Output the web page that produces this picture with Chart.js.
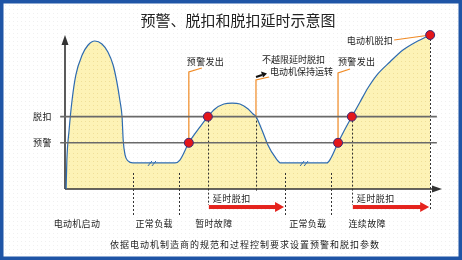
<!DOCTYPE html>
<html>
<head>
<meta charset="utf-8">
<script src="https://cdn.jsdelivr.net/npm/chart.js@4/dist/chart.umd.min.js"></script>
<style>
  html, body { margin: 0; padding: 0; background: #fff; }
  #wrap { width: 462px; height: 260px; position: relative; }
</style>
</head>
<body>
<div id="wrap"><canvas id="diagram"></canvas></div>
<script>
// motor current (0-100) over time (0-100)
const curveTime = [0.3, 0.5, 1.1, 1.9, 2.9, 4.6, 6.2, 8.0, 9.9, 11.5, 12.9, 13.9, 14.7, 15.3, 15.6, 16.1, 16.9, 18.2,
  29.5, 30.8, 33.2, 36.2, 38.3, 40.2, 42.6, 44.8, 46.9, 49.1, 50.4, 51.2, 52.8, 54.4, 56.3, 57.9,
  70.2, 71.3, 73.2, 74.8, 76.9, 79.1, 81.2, 83.6, 87.1, 90.6, 94.1, 97.9];
const curveCurrent = [0, 18.8, 38.3, 57.8, 74.0, 87.0, 93.5, 96.1, 94.2, 89.0, 80.5, 69.5, 57.8, 46.8, 31.8, 22.1, 18.2, 16.9,
  16.9, 18.8, 30, 40.3, 47, 52.0, 55.2, 55.8, 55.2, 52.0, 48.7, 47, 38.3, 28.6, 20.8, 16.9,
  16.9, 20.1, 30, 37.7, 47, 56.5, 65.6, 74.0, 82.5, 90.3, 95.5, 100];

const alarmLevel = 30;
const tripLevel = 47;
const levelNames = ["脱扣", "预警"];
const levelValues = [tripLevel, alarmLevel];
const levelSpan = [-1.3, 99.7];

// red event markers
const eventTime = [33.2, 38.3, 73.2, 76.9, 97.9];
const eventCurrent = [alarmLevel, tripLevel, alarmLevel, tripLevel, 100];

// dotted guide lines
const guideTime = [18.2, 30.6, 38.3, 51.2, 59.0, 71.3, 76.9, 97.9];
const guideTop = [10.4, 10.4, 47, 47, 10.4, 10.4, 47, 100];
const guideBottom = [-16.9, -16.9, -10.4, -1.9, -16.9, -16.9, -10.4, -13.6];

// red delay arrows
const delayStart = [38.3, 76.9];
const delayEnd = [59.0, 97.9];
const delayLevel = -11.7;
const delayLabel = "延时脱扣";

// phase labels under the axis
const phaseNames = ["电动机启动", "正常负载", "暂时故障", "正常负载", "连续故障"];
const phaseTime = [3.2, 23.9, 39.9, 65.1, 81.0];

// "//" break marks on the normal-load plateaus
const breakTime = [23.3, 64.1];
const breakCurrent = [16.9, 16.9];

const noteTexts = ["预警发出", ["不越限延时脱扣", "电动机保持运转"], "预警发出", "电动机脱扣"];
const title = "预警、脱扣和脱扣延时示意图";
const caption = "依据电动机制造商的规范和过程控制要求设置预警和脱扣参数";

const FONT = '"Noto Sans CJK SC", "Noto Sans", sans-serif';

function dots(base, dot) {
  const c = document.createElement("canvas");
  c.width = 4; c.height = 4;
  const g = c.getContext("2d");
  g.fillStyle = base; g.fillRect(0, 0, 4, 4);
  g.fillStyle = dot; g.fillRect(1, 1, 1, 1);
  return g.createPattern(c, "repeat");
}

function text(ctx, str, x, y, size, align, spacing) {
  ctx.font = size + "px " + FONT;
  ctx.textAlign = align || "left";
  ctx.textBaseline = "middle";
  ctx.letterSpacing = (spacing || 0) + "px";
  ctx.fillStyle = "#222";
  ctx.fillText(str, x, y);
}

function line(ctx, x0, y0, x1, y1) {
  ctx.beginPath(); ctx.moveTo(x0, y0); ctx.lineTo(x1, y1); ctx.stroke();
}

const overlay = {
  id: "overlay",
  beforeDraw(chart) {
    const ctx = chart.ctx;
    ctx.save();
    ctx.fillStyle = dots("#ffffff", "#f0f0f0");
    ctx.fillRect(0, 0, chart.width, chart.height);
    ctx.restore();
  },
  beforeDatasetsDraw(chart) {
    const { ctx, scales: { x, y }, chartArea: a } = chart;
    ctx.save();
    // axes with arrow heads
    ctx.strokeStyle = "#333"; ctx.fillStyle = "#333"; ctx.lineWidth = 1.6;
    line(ctx, a.left, a.bottom, a.left, a.top + 8);
    line(ctx, a.left, a.bottom, a.right - 2, a.bottom);
    ctx.beginPath();
    ctx.moveTo(a.left, a.top); ctx.lineTo(a.left - 3.5, a.top + 10); ctx.lineTo(a.left + 3.5, a.top + 10); ctx.closePath(); ctx.fill();
    ctx.beginPath();
    ctx.moveTo(a.right + 4, a.bottom); ctx.lineTo(a.right - 6, a.bottom - 3.5); ctx.lineTo(a.right - 6, a.bottom + 3.5); ctx.closePath(); ctx.fill();

    // dotted guides
    ctx.strokeStyle = "#333"; ctx.lineWidth = 1; ctx.setLineDash([2, 2]);
    guideTime.forEach((t, i) => {
      const px = Math.round(x.getPixelForValue(t)) + 0.5;
      line(ctx, px, y.getPixelForValue(guideTop[i]), px, y.getPixelForValue(guideBottom[i]));
    });
    ctx.setLineDash([]);

    // orange leader lines
    ctx.strokeStyle = "#f08a24"; ctx.lineWidth = 1.2;
    const leader = (t, v, topY, dx, dy) => {
      const px = x.getPixelForValue(t), py = y.getPixelForValue(v);
      ctx.beginPath(); ctx.moveTo(px, py); ctx.lineTo(px, topY); ctx.lineTo(px + dx, topY + dy); ctx.stroke();
    };
    leader(eventTime[0], eventCurrent[0], a.top + 37, 13, -4);
    leader(guideTime[3], tripLevel, a.top + 45, 13, -3);
    leader(eventTime[2], eventCurrent[2], a.top + 38, 12, -4);
    const ex = x.getPixelForValue(eventTime[4]), ey = y.getPixelForValue(eventCurrent[4]);
    line(ctx, ex, ey, ex - 36, ey + 5);
    ctx.restore();
  },
  afterDatasetsDraw(chart) {
    const { ctx, scales: { x, y }, chartArea: a } = chart;
    ctx.save();

    // break marks
    ctx.strokeStyle = "#2e6bb0"; ctx.lineWidth = 1;
    breakTime.forEach((t, i) => {
      const px = x.getPixelForValue(t), py = y.getPixelForValue(breakCurrent[i]);
      line(ctx, px - 4, py + 3, px, py - 2);
      line(ctx, px, py + 3, px + 4, py - 2);
    });

    // delay arrows
    delayStart.forEach((t, i) => {
      const x0 = x.getPixelForValue(t) + 1, x1 = x.getPixelForValue(delayEnd[i]) - 1;
      const py = y.getPixelForValue(delayLevel);
      ctx.fillStyle = "#e5231d";
      ctx.fillRect(x0, py - 2, x1 - x0 - 7, 4);
      ctx.beginPath(); ctx.moveTo(x1, py); ctx.lineTo(x1 - 9, py - 5); ctx.lineTo(x1 - 9, py + 5); ctx.closePath(); ctx.fill();
      text(ctx, delayLabel, x0 + 4, py - 8, 9, "left", 0.5);
    });

    // small black arrow near "不越限延时脱扣"
    const gx = x.getPixelForValue(guideTime[3]);
    ctx.strokeStyle = "#111"; ctx.fillStyle = "#111"; ctx.lineWidth = 2;
    line(ctx, gx, a.top + 42, gx + 6, a.top + 40);
    ctx.beginPath(); ctx.moveTo(gx + 11, a.top + 38.5); ctx.lineTo(gx + 5, a.top + 36.5); ctx.lineTo(gx + 7, a.top + 42.5); ctx.closePath(); ctx.fill();

    // notes
    const n0 = x.getPixelForValue(eventTime[0]);
    text(ctx, noteTexts[0], n0 - 2, a.top + 27, 9, "left", 0.3);
    text(ctx, noteTexts[1][0], gx + 6, a.top + 25, 9, "left", 0);
    text(ctx, noteTexts[1][1], gx + 14, a.top + 37, 9, "left", 0);
    const n2 = x.getPixelForValue(eventTime[2]);
    text(ctx, noteTexts[2], n2, a.top + 27, 9, "left", 0.3);
    const n3 = x.getPixelForValue(eventTime[4]);
    text(ctx, noteTexts[3], n3 - 37, a.top + 6, 9, "right", 0.3);

    // level names
    levelNames.forEach((name, i) => {
      text(ctx, name, a.left - 13, y.getPixelForValue(levelValues[i]), 9, "right", 0.5);
    });

    // phase names
    phaseNames.forEach((name, i) => {
      text(ctx, name, x.getPixelForValue(phaseTime[i]), a.bottom + 35, 9, "center", 0.3);
    });

    // title and caption
    text(ctx, title, 238, 20, 15, "center", 0);
    text(ctx, caption, 245, 245, 9, "center", 1);

    // frame
    ctx.strokeStyle = "#1f55a6"; ctx.lineWidth = 3.5;
    ctx.strokeRect(1.75, 1.75, chart.width - 3.5, chart.height - 3.5);
    ctx.restore();
  }
};

const pointsOf = (xs, ys) => xs.map((v, i) => ({ x: v, y: ys[i] }));

const datasets = [
  {
    data: pointsOf(eventTime, eventCurrent),
    showLine: false,
    pointRadius: 4.5,
    pointBackgroundColor: "#e3161b",
    pointBorderColor: "#3a2a78",
    pointBorderWidth: 1,
    clip: false
  },
  ...levelValues.map(v => ({
    data: pointsOf(levelSpan, [v, v]),
    borderColor: "#6a6a6a",
    borderWidth: 1.6,
    pointRadius: 0,
    clip: false
  })),
  {
    data: pointsOf(curveTime, curveCurrent),
    borderColor: "#2e6bb0",
    borderWidth: 1.2,
    pointRadius: 0,
    cubicInterpolationMode: "monotone",
    fill: "origin",
    backgroundColor: dots("#fdf3b6", "#efdf98"),
    clip: false
  }
];

new Chart(document.getElementById("diagram"), {
  type: "line",
  data: { datasets },
  options: {
    responsive: true,
    maintainAspectRatio: false,
    animation: false,
    events: [],
    layout: { padding: { left: 65, right: 24, top: 35, bottom: 71 } },
    scales: {
      x: { type: "linear", min: 0, max: 100, display: false },
      y: { type: "linear", min: 0, max: 100, display: false }
    },
    plugins: {
      legend: { display: false },
      tooltip: { enabled: false },
      filler: { drawTime: "beforeDatasetsDraw" }
    }
  },
  plugins: [overlay]
});
</script>
</body>
</html>
